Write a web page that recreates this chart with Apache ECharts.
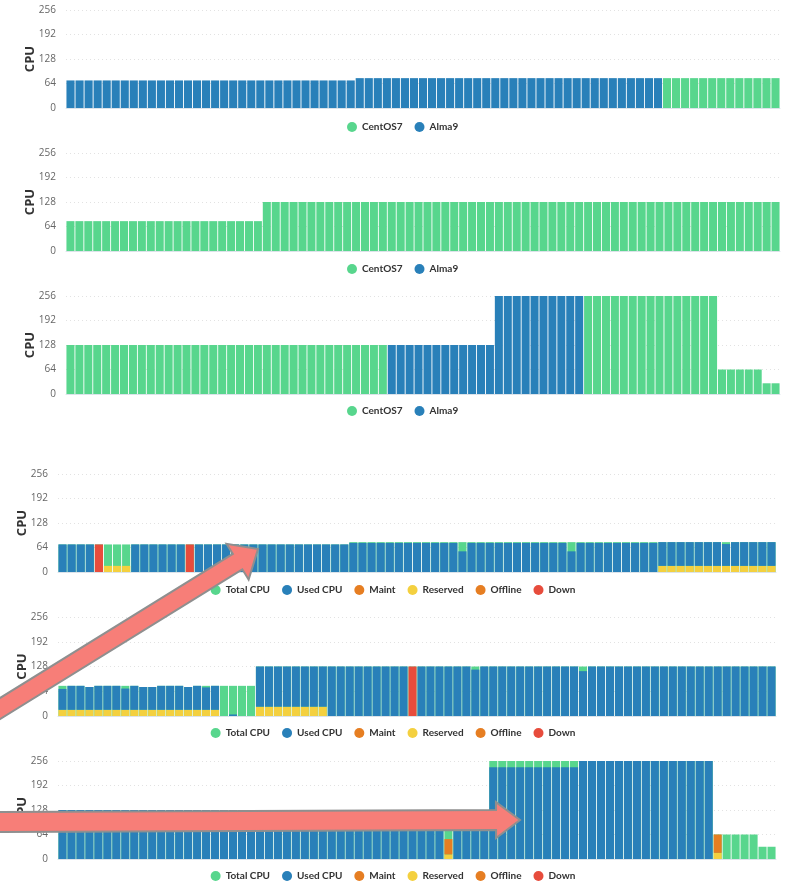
<!DOCTYPE html>
<html>
<head>
<meta charset="utf-8">
<script src="https://cdn.jsdelivr.net/npm/echarts@6/dist/echarts.min.js"></script>
<style>
html, body { margin: 0; padding: 0; background: #fff; }
#chart { width: 786px; height: 882px; }
</style>
</head>
<body>
<div id="chart"></div>
<script>
// cores per host, one entry per bar (0 = nothing of that kind)
var yTicks = [0, 64, 128, 192, 256]
var osNames = ['CentOS7', 'Alma9']
var cpuNames = ['Total CPU', 'Used CPU', 'Maint', 'Reserved', 'Offline', 'Down']

// cluster A (79 hosts)
var centos1 = [
  0,0,0,0,0,0,0,0,0,0, 0,0,0,0,0,0,0,0,0,0, 0,0,0,0,0,0,0,0,0,0,
  0,0,0,0,0,0,0,0,0,0, 0,0,0,0,0,0,0,0,0,0, 0,0,0,0,0,0,0,0,0,0,
  0,0,0,0,0,0,78,78,78,78, 78,78,78,78,78,78,78,78,78
]
var alma1 = [
  72,72,72,72,72,72,72,72,72,72, 72,72,72,72,72,72,72,72,72,72, 72,72,72,72,72,72,72,72,72,72,
  72,72,78,78,78,78,78,78,78,78, 78,78,78,78,78,78,78,78,78,78, 78,78,78,78,78,78,78,78,78,78,
  78,78,78,78,78,78,0,0,0,0, 0,0,0,0,0,0,0,0,0
]
// cluster B (80 hosts)
var centos2 = [
  78,78,78,78,78,78,78,78,78,78, 78,78,78,78,78,78,78,78,78,78, 78,78,128,128,128,128,128,128,128,128,
  128,128,128,128,128,128,128,128,128,128, 128,128,128,128,128,128,128,128,128,128, 128,128,128,128,128,128,128,128,128,128,
  128,128,128,128,128,128,128,128,128,128, 128,128,128,128,128,128,128,128,128,128
]
var alma2 = []
// cluster C (80 hosts)
var centos3 = [
  128,128,128,128,128,128,128,128,128,128, 128,128,128,128,128,128,128,128,128,128, 128,128,128,128,128,128,128,128,128,128,
  128,128,128,128,128,128,0,0,0,0, 0,0,0,0,0,0,0,0,0,0, 0,0,0,0,0,0,0,0,256,256,
  256,256,256,256,256,256,256,256,256,256, 256,256,256,64,64,64,64,64,28,28
]
var alma3 = [
  0,0,0,0,0,0,0,0,0,0, 0,0,0,0,0,0,0,0,0,0, 0,0,0,0,0,0,0,0,0,0,
  0,0,0,0,0,0,128,128,128,128, 128,128,128,128,128,128,128,128,256,256, 256,256,256,256,256,256,256,256,0,0,
  0,0,0,0,0,0,0,0,0,0, 0,0,0,0,0,0,0,0,0,0
]

// cluster A usage
var total4 = [
  72,72,72,72,72,72,72,72,72,72, 72,72,72,72,72,72,72,72,72,72, 72,72,72,72,72,72,72,72,72,72,
  72,72,78,78,78,78,78,78,78,78, 78,78,78,78,78,78,78,78,78,78, 78,78,78,78,78,78,78,78,78,78,
  78,78,78,78,78,78,78,78,78,78, 78,78,78,78,78,78,78,78,78
]
var used4 = [
  72,72,72,72,0,0,0,0,72,72, 72,72,72,72,0,72,72,72,72,72, 72,72,72,72,72,72,72,72,72,72,
  72,72,76,76,76,76,76,76,76,76, 76,76,76,76,54,76,76,76,76,76, 76,76,76,76,76,76,54,76,76,76,
  76,76,76,76,76,76,62,62,62,62, 62,62,62,57,62,62,62,62,62
]
var maint4 = []
var reserved4 = [
  0,0,0,0,0,16,16,16,0,0, 0,0,0,0,0,0,0,0,0,0, 0,0,0,0,0,0,0,0,0,0,
  0,0,0,0,0,0,0,0,0,0, 0,0,0,0,0,0,0,0,0,0, 0,0,0,0,0,0,0,0,0,0,
  0,0,0,0,0,0,16,16,16,16, 16,16,16,16,16,16,16,16,16
]
var offline4 = []
var down4 = [0,0,0,0,72,0,0,0,0,0, 0,0,0,0,72]

// cluster B usage
var total5 = [
  78,78,78,75,78,78,78,78,78,75, 75,78,78,78,75,78,78,78,78,78, 78,78,128,128,128,128,128,128,128,128,
  128,128,128,128,128,128,128,128,128,128, 128,128,128,128,128,128,128,128,128,128, 128,128,128,128,128,128,128,128,128,128,
  128,128,128,128,128,128,128,128,128,128, 128,128,128,128,128,128,128,128,128,128
]
var used5 = [
  54,62,62,59,62,62,62,55,62,59, 59,62,62,62,59,62,58,62,0,4, 0,0,104,104,104,104,104,104,104,104,
  128,128,128,128,128,128,128,128,128,0, 128,128,128,128,128,128,120,128,128,128, 128,128,128,128,128,128,128,128,116,128,
  128,128,128,128,128,128,128,128,128,128, 128,128,128,128,128,128,128,128,128,128
]
var maint5 = []
var reserved5 = [
  16,16,16,16,16,16,16,16,16,16, 16,16,16,16,16,16,16,16,0,0, 0,0,24,24,24,24,24,24,24,24
]
var offline5 = []
var down5 = [
  0,0,0,0,0,0,0,0,0,0, 0,0,0,0,0,0,0,0,0,0, 0,0,0,0,0,0,0,0,0,0,
  0,0,0,0,0,0,0,0,0,128
]

// cluster C usage
var total6 = [
  128,128,128,128,128,128,128,128,128,128, 128,128,128,128,128,128,128,128,128,128, 128,128,128,128,128,128,128,128,128,128,
  128,128,128,128,128,128,128,128,128,128, 128,128,128,128,128,128,128,128,256,256, 256,256,256,256,256,256,256,256,256,256,
  256,256,256,256,256,256,256,256,256,256, 256,256,256,64,64,64,64,64,32,32
]
var used6 = [
  128,128,128,128,128,128,128,128,128,128, 128,128,128,128,128,128,128,128,128,128, 128,128,128,128,128,128,128,128,128,128,
  128,128,128,128,128,128,124,118,124,124, 124,124,124,0,124,124,124,124,240,240, 240,240,240,240,240,240,240,240,256,256,
  256,256,256,256,256,256,256,256,256,256, 256,256,256,0,0,0,0,0,0,0
]
var maint6 = [
  0,0,0,0,0,0,0,0,0,0, 0,0,0,0,0,0,0,0,0,0, 0,0,0,0,0,0,0,0,0,0,
  0,0,0,0,0,0,0,0,0,0, 0,0,0,40,0,0,0,0,0,0, 0,0,0,0,0,0,0,0,0,0,
  0,0,0,0,0,0,0,0,0,0, 0,0,0,48
]
var reserved6 = [
  0,0,0,0,0,0,0,0,0,0, 0,0,0,0,0,0,0,0,0,0, 0,0,0,0,0,0,0,0,0,0,
  0,0,0,0,0,0,0,0,0,0, 0,0,0,12,0,0,0,0,0,0, 0,0,0,0,0,0,0,0,0,0,
  0,0,0,0,0,0,0,0,0,0, 0,0,0,16
]
var offline6 = []
var down6 = []

var green = '#58d68d'
var blue = '#2980b9'
var orange = '#e67e22'
var yellow = '#f4d03f'
var red = '#e74c3c'

var grids = [
  { left: 66, right: 6, top: 10, height: 98 },
  { left: 66, right: 6, top: 153, height: 98 },
  { left: 66, right: 6, top: 296, height: 98 },
  { left: 58, right: 10, top: 474, height: 98 },
  { left: 58, right: 10, top: 617, height: 99 },
  { left: 58, right: 10, top: 761, height: 98 }
]
var legendTops = [117, 259, 401, 580, 723, 866]

function clean(arr, n) {
  var out = []
  for (var i = 0; i < n; i++) out.push(arr[i] ? arr[i] : '-')
  return out
}

function bar(name, data, n, color, gi, stack) {
  return {
    name: name,
    type: 'bar',
    xAxisIndex: gi,
    yAxisIndex: gi,
    stack: stack ? stack + gi : undefined,
    data: clean(data, n),
    itemStyle: { color: color },
    barGap: '-100%',
    barCategoryGap: '10%',
    animation: false
  }
}

var series = [
  bar('CentOS7', centos1, 79, green, 0, 'os'),
  bar('Alma9', alma1, 79, blue, 0, 'os'),
  bar('CentOS7', centos2, 80, green, 1, 'os'),
  bar('Alma9', alma2, 80, blue, 1, 'os'),
  bar('CentOS7', centos3, 80, green, 2, 'os'),
  bar('Alma9', alma3, 80, blue, 2, 'os')
]
var usage = [
  [total4, used4, maint4, reserved4, offline4, down4, 79],
  [total5, used5, maint5, reserved5, offline5, down5, 80],
  [total6, used6, maint6, reserved6, offline6, down6, 80]
]
usage.forEach(function (u, k) {
  var gi = k + 3, n = u[6]
  series.push(bar('Total CPU', u[0], n, green, gi))
  series.push(bar('Reserved', u[3], n, yellow, gi, 'cpu'))
  series.push(bar('Maint', u[2], n, orange, gi, 'cpu'))
  series.push(bar('Offline', u[4], n, orange, gi, 'cpu'))
  series.push(bar('Used CPU', u[1], n, blue, gi, 'cpu'))
  series.push(bar('Down', u[5], n, red, gi, 'cpu'))
})

var xAxes = grids.map(function (g, i) {
  return {
    type: 'category',
    gridIndex: i,
    axisLine: { lineStyle: { color: '#dce3ea' } },
    axisTick: { show: false },
    axisLabel: { show: false }
  }
})
var yAxes = grids.map(function (g, i) {
  return {
    type: 'value',
    gridIndex: i,
    min: yTicks[0],
    max: yTicks[yTicks.length - 1],
    interval: yTicks[1] - yTicks[0],
    name: 'CPU',
    nameLocation: 'middle',
    nameGap: 29,
    nameMoveOverlap: false,
    nameTextStyle: { fontFamily: 'Open Sans', fontWeight: 'bold', fontSize: 13, color: '#333' },
    axisLine: { show: false },
    axisTick: { show: false },
    axisLabel: { fontFamily: 'Open Sans', fontSize: 10, color: '#666', margin: 10 },
    splitLine: { lineStyle: { color: '#e2e2e2', type: [1, 3] } }
  }
})
var legends = legendTops.map(function (t, i) {
  return {
    top: t,
    left: i < 3 ? 342 : 'center',
    data: i < 3 ? osNames : cpuNames,
    icon: 'circle',
    itemWidth: 10,
    itemHeight: 10,
    itemGap: 12,
    textStyle: { fontFamily: 'Lato', fontWeight: 'bold', fontSize: 10, color: '#333' }
  }
})

function arrow(x0, y0, x1, y1, shaft, headW, headL) {
  var dx = x1 - x0, dy = y1 - y0
  var len = Math.sqrt(dx * dx + dy * dy)
  var ux = dx / len, uy = dy / len
  var px = -uy, py = ux
  var bx = x1 - ux * headL, by = y1 - uy * headL
  var s = shaft / 2, h = headW / 2
  return [
    [x0 + px * s, y0 + py * s],
    [bx + px * s, by + py * s],
    [bx + px * h, by + py * h],
    [x1, y1],
    [bx - px * h, by - py * h],
    [bx - px * s, by - py * s],
    [x0 - px * s, y0 - py * s]
  ]
}

var arrowStyle = { fill: '#f77e78', stroke: '#8f8f8f', lineWidth: 2 }

var chart = echarts.init(document.getElementById('chart'))
chart.setOption({
  animation: false,
  grid: grids,
  xAxis: xAxes,
  yAxis: yAxes,
  legend: legends,
  series: series,
  graphic: [
    { type: 'polygon', z: 100, shape: { points: arrow(-12, 716, 258, 549, 18, 42, 24) }, style: arrowStyle },
    { type: 'polygon', z: 100, shape: { points: arrow(-12, 822, 520, 820, 20, 36, 24) }, style: arrowStyle }
  ]
})
</script>
</body>
</html>
